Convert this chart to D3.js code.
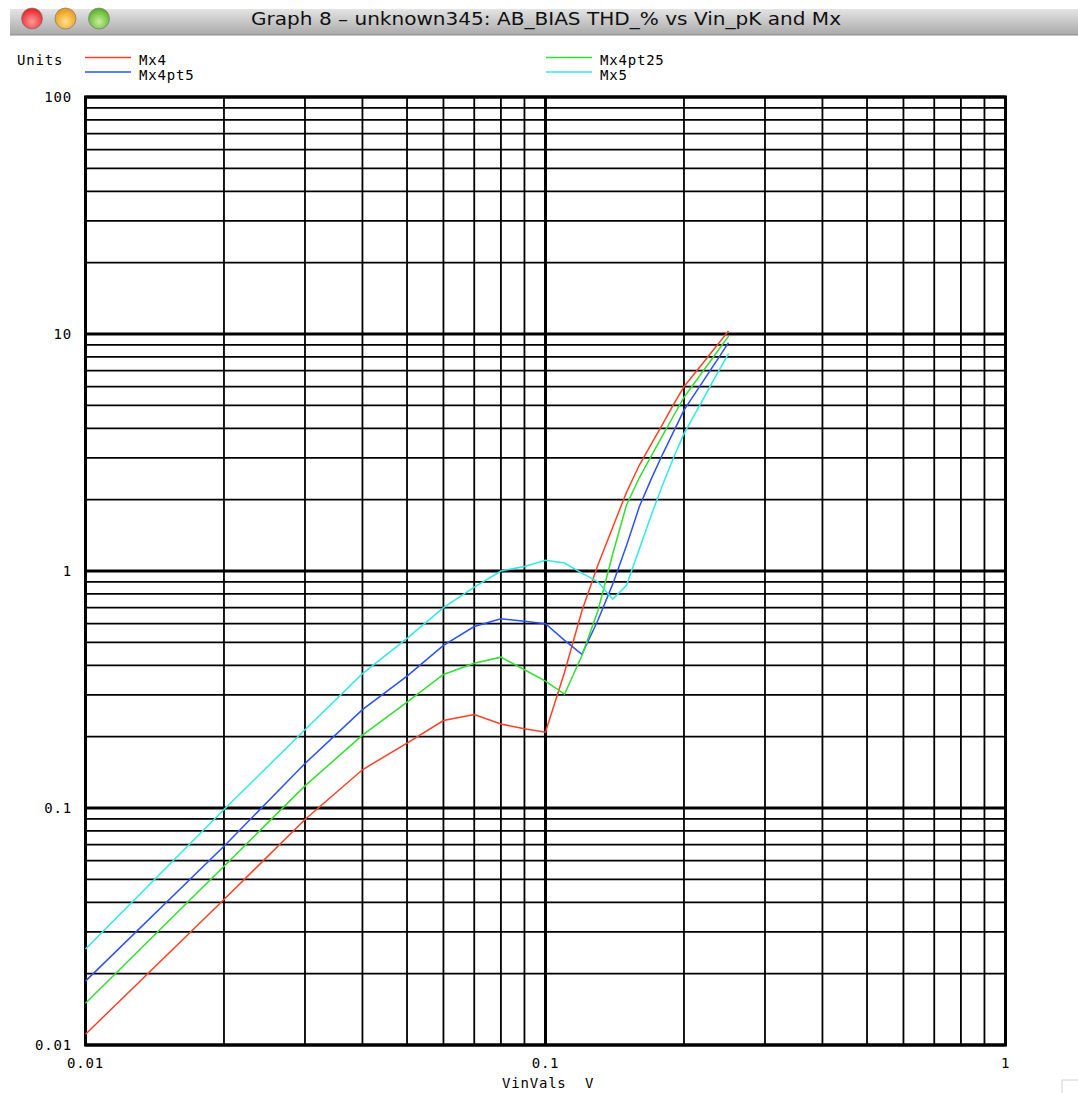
<!DOCTYPE html>
<html>
<head>
<meta charset="utf-8">
<script src="https://cdn.jsdelivr.net/npm/d3@7"></script>
<style>
  body { margin: 0; background: #fff; }
  svg text { font-family: "DejaVu Sans Mono", monospace; }
</style>
</head>
<body>
<div id="graph"></div>
<script>
// Sweep values (V) and THD % per series
const vin = [0.01, 0.02, 0.03, 0.04, 0.05, 0.06, 0.07, 0.08, 0.09, 0.10,
             0.11, 0.12, 0.13, 0.14, 0.15, 0.16, 0.17, 0.18, 0.19, 0.20,
             0.21, 0.22, 0.23, 0.24, 0.25]
const mx4 = [0.0111, 0.0411, 0.0894, 0.145, 0.188, 0.234, 0.248, 0.226, 0.216, 0.209,
             0.374, 0.68, 1.06, 1.53, 2.15, 2.8, 3.45, 4.19, 5.06, 6.0,
             6.75, 7.55, 8.42, 9.33, 10.3]
const mx4pt25 = [0.0150, 0.0568, 0.124, 0.203, 0.28, 0.366, 0.408, 0.433, 0.383, 0.343,
                 0.302, 0.44, 0.68, 1.18, 1.9, 2.48, 3.07, 3.75, 4.53, 5.4,
                 6.15, 6.97, 7.84, 8.79, 9.8]
const mx4pt5 = [0.0186, 0.069, 0.154, 0.26, 0.36, 0.485, 0.583, 0.629, 0.614, 0.599,
                0.51, 0.445, 0.62, 0.88, 1.28, 1.87, 2.46, 3.13, 3.88, 4.77,
                5.51, 6.31, 7.19, 8.15, 9.19]
const mx5 = [0.0254, 0.0985, 0.214, 0.369, 0.52, 0.70, 0.855, 1.0, 1.045, 1.11,
             1.08, 0.98, 0.90, 0.76, 0.87, 1.24, 1.73, 2.33, 3.02, 3.8,
             4.5, 5.3, 6.2, 7.2, 8.26]

const seriesNames = ["Mx4", "Mx4pt5", "Mx4pt25", "Mx5"]
const seriesValues = [mx4, mx4pt5, mx4pt25, mx5]
const seriesColors = ["#ff4022", "#2b50ff", "#30e030", "#30e8e8"]

const xTickLabels = ["0.01", "0.1", "1"]
const yTickLabels = ["100", "10", "1", "0.1", "0.01"]
const title = "Graph 8 \u2013 unknown345: AB_BIAS THD_% vs Vin_pK and Mx"

const width = 1078
const height = 1093

const svg = d3.select("#graph").append("svg")
    .attr("width", width)
    .attr("height", height)

// window title bar
const defs = svg.append("defs")
const grad = defs.append("linearGradient").attr("id", "bar")
    .attr("x1", 0).attr("y1", 0).attr("x2", 0).attr("y2", 1)
grad.append("stop").attr("offset", "0%").attr("stop-color", "#e4e4e4")
grad.append("stop").attr("offset", "100%").attr("stop-color", "#a9a9a9")

svg.append("rect").attr("x", 10).attr("y", 9).attr("width", width - 10).attr("height", 26)
    .attr("fill", "url(#bar)")
svg.append("line").attr("x1", 10).attr("x2", width).attr("y1", 35).attr("y2", 35)
    .attr("stroke", "#8a8a8a").attr("stroke-width", 1)

const lights = [["#e8262d", "#ff9a9a"], ["#e99a17", "#ffe08a"], ["#5bb22a", "#c6f09a"]]
lights.forEach((c, i) => {
    const g = defs.append("radialGradient").attr("id", "light" + i)
        .attr("cx", "50%").attr("cy", "65%").attr("r", "60%")
    g.append("stop").attr("offset", "0%").attr("stop-color", c[1])
    g.append("stop").attr("offset", "100%").attr("stop-color", c[0])
    svg.append("circle").attr("cx", 32 + i * 33.5).attr("cy", 18.5).attr("r", 10.5)
        .attr("fill", `url(#light${i})`).attr("stroke", "#6a6a6a").attr("stroke-width", 0.6)
})

svg.append("text")
    .attr("x", 546).attr("y", 25)
    .attr("text-anchor", "middle")
    .style("font-family", "'DejaVu Sans', sans-serif")
    .style("font-size", "17px")
    .attr("fill", "#111")
    .attr("textLength", 590)
    .attr("lengthAdjust", "spacingAndGlyphs")
    .text(title)

// scales
const xScale = d3.scaleLog().domain([0.01, 1]).range([85.5, 1005.5])
const yScale = d3.scaleLog().domain([0.01, 100]).range([1045, 97])

// grid
const xGrid = []
for (let d = 0.01; d < 1; d *= 10) for (let k = 1; k <= 10; k++) xGrid.push(+(d * k).toPrecision(3))
const yGrid = []
for (let d = 0.01; d < 100; d *= 10) for (let k = 1; k <= 10; k++) yGrid.push(+(d * k).toPrecision(3))
const isDecade = v => Math.abs(Math.log10(v) - Math.round(Math.log10(v))) < 1e-6

const grid = svg.append("g")
grid.selectAll(".vx").data([...new Set(xGrid)]).enter().append("line")
    .attr("x1", d => xScale(d)).attr("x2", d => xScale(d))
    .attr("y1", yScale(0.01)).attr("y2", yScale(100))
    .attr("stroke", "#000").attr("stroke-width", d => isDecade(d) ? 3 : 1.8)
grid.selectAll(".hy").data([...new Set(yGrid)]).enter().append("line")
    .attr("y1", d => yScale(d)).attr("y2", d => yScale(d))
    .attr("x1", xScale(0.01)).attr("x2", xScale(1))
    .attr("stroke", "#000").attr("stroke-width", d => isDecade(d) ? 3 : 1.8)

svg.append("rect")
    .attr("x", xScale(0.01)).attr("y", yScale(100))
    .attr("width", xScale(1) - xScale(0.01)).attr("height", yScale(0.01) - yScale(100))
    .attr("fill", "none").attr("stroke", "#000").attr("stroke-width", 3)

// tick labels
svg.selectAll(".ylab").data(yTickLabels).enter().append("text")
    .attr("x", 72).attr("y", d => yScale(+d) + 5)
    .attr("text-anchor", "end")
    .style("font-size", "14px").style("letter-spacing", "0.8px")
    .text(d => d)
svg.selectAll(".xlab").data(xTickLabels).enter().append("text")
    .attr("x", d => xScale(+d)).attr("y", 1068)
    .attr("text-anchor", "middle")
    .style("font-size", "14px").style("letter-spacing", "0.8px")
    .text(d => d)
svg.append("text").attr("x", 502).attr("y", 1088)
    .style("font-size", "14px").style("letter-spacing", "0.8px")
    .attr("xml:space", "preserve")
    .text("VinVals  V")

// curves
const line = d3.line().x((d, i) => xScale(vin[i])).y(d => yScale(d))
svg.append("g").selectAll("path").data(seriesValues).enter().append("path")
    .attr("d", d => line(d))
    .attr("fill", "none")
    .attr("stroke", (d, i) => seriesColors[i])
    .attr("stroke-width", 1.5)

// legend
svg.append("text").attr("x", 17).attr("y", 65)
    .style("font-size", "14px").style("letter-spacing", "0.8px").text("Units")
const legendPos = [[85, 57.5], [85, 72], [546, 57.5], [546, 72]]
const legend = svg.append("g")
seriesNames.forEach((name, i) => {
    const [lx, ly] = legendPos[i]
    legend.append("line").attr("x1", lx).attr("x2", lx + 46).attr("y1", ly).attr("y2", ly)
        .attr("stroke", seriesColors[i]).attr("stroke-width", 1.6)
    legend.append("text").attr("x", lx + 54).attr("y", ly + 7.5)
        .style("font-size", "14px").style("letter-spacing", "0.8px").text(name)
})

// resize grip corner
svg.append("path").attr("d", "M1062,1093 V1080 H1078")
    .attr("fill", "none").attr("stroke", "#d0d0d0").attr("stroke-width", 1)
</script>
</body>
</html>
